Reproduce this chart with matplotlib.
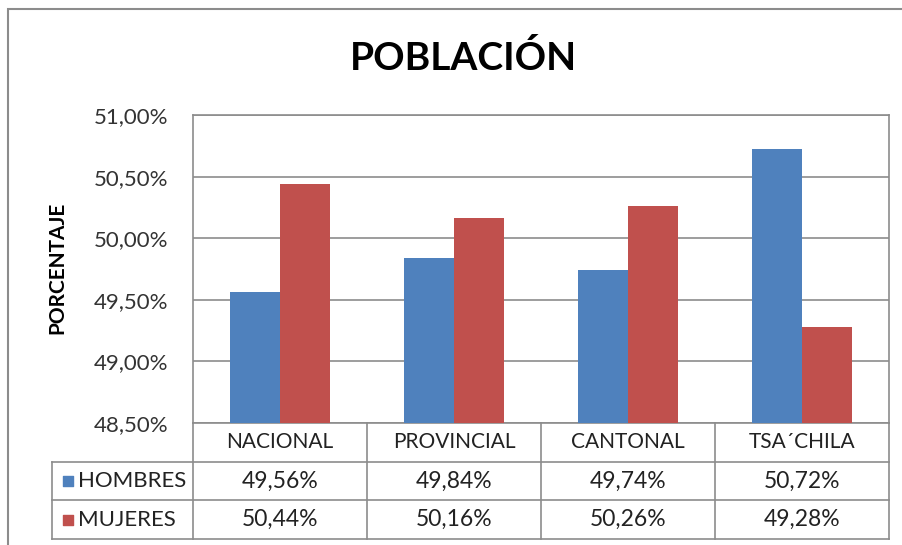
import matplotlib
matplotlib.use("Agg")
import matplotlib.pyplot as plt
import numpy as np
from matplotlib.patches import Rectangle

# data
categorias = ["NACIONAL", "PROVINCIAL", "CANTONAL", "TSA´CHILA"]
hombres = [49.56, 49.84, 49.74, 50.72]
mujeres = [50.44, 50.16, 50.26, 49.28]
series = ["HOMBRES", "MUJERES"]
y_ticks = [48.5, 49.0, 49.5, 50.0, 50.5, 51.0]

azul = "#4F81BD"
rojo = "#C0504D"
gris = "#8C8C8C"
plt.rcParams["font.family"] = ["Lato", "DejaVu Sans"]

W, H = 902, 545
fig = plt.figure(figsize=(W / 100, H / 100), dpi=100)

def fx(px):
    return px / W

def fy(py):
    return 1 - py / H

def pct(v):
    return f"{v:.2f}".replace(".", ",") + "%"

# outer chart frame
fig.add_artist(Rectangle((fx(8), fy(560)), 1.1, fy(9) - fy(560), transform=fig.transFigure,
                         fill=False, edgecolor=gris, lw=1.5))

# plot area
ax = fig.add_axes([fx(193), fy(423), fx(889) - fx(193), fy(115) - fy(423)])
x = np.arange(len(categorias))
w = 1 / 3.5
ax.bar(x - w / 2, hombres, w, color=azul, zorder=3)
ax.bar(x + w / 2, mujeres, w, color=rojo, zorder=3)
ax.set_xlim(-0.5, len(categorias) - 0.5)
ax.set_ylim(y_ticks[0], y_ticks[-1])
ax.set_yticks(y_ticks)
ax.set_yticklabels([pct(v) for v in y_ticks], fontsize=16, color="#333333")
ax.set_xticks([])
ax.tick_params(axis="y", length=0, pad=18)
ax.yaxis.grid(True, color=gris, lw=1.2, zorder=0)
for s in ax.spines.values():
    s.set_color(gris)
    s.set_linewidth(1.2)

fig.text(fx(57), fy(268), "PORCENTAJE", rotation=90, fontsize=15, fontweight="bold",
         ha="center", va="center")
fig.text(fx(463), fy(58), "POBLACIÓN", fontsize=28, fontweight="bold", ha="center", va="center")

# data table under the plot
tb = fig.add_axes([fx(193), fy(539), fx(889) - fx(193), fy(423) - fy(539)])
tb.set_xlim(-0.5, len(categorias) - 0.5)
tb.set_ylim(3, 0)
tb.axis("off")
left = -0.5 + (52 - 193) / ((889 - 193) / len(categorias))
for i in range(len(categorias) + 1):
    tb.plot([i - 0.5, i - 0.5], [0, 3], color=gris, lw=1.2, clip_on=False)
tb.plot([left, left], [1, 3], color=gris, lw=1.2, clip_on=False)
for r in [1, 2, 3]:
    tb.plot([left, len(categorias) - 0.5], [r, r], color=gris, lw=1.2, clip_on=False)

for i, c in enumerate(categorias):
    tb.text(i, 0.5, c, ha="center", va="center", fontsize=15, color="#222222")
for row, (nombre, vals, col) in enumerate(zip(series, [hombres, mujeres], [azul, rojo]), start=1):
    tb.scatter([left + 0.09], [row + 0.5], marker="s", s=55, color=col, clip_on=False)
    tb.text(left + 0.15, row + 0.5, nombre, ha="left", va="center", fontsize=16, color="#222222")
    for i, v in enumerate(vals):
        tb.text(i, row + 0.5, pct(v), ha="center", va="center", fontsize=16.5, color="#222222")

fig.savefig("out.png", dpi=100)
